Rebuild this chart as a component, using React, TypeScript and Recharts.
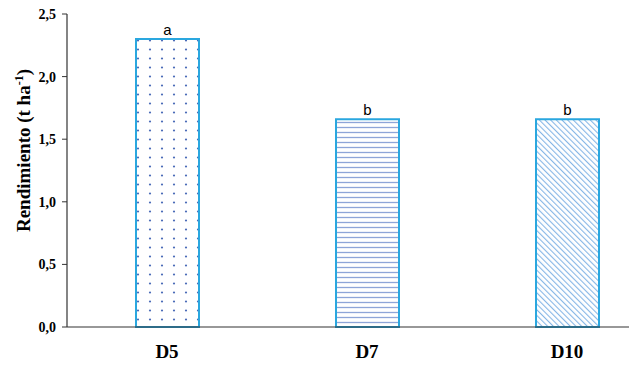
import React from "react";
import { Bar, BarChart, Cell, LabelList, XAxis, YAxis } from "recharts";

const tratamientos = ["D5", "D7", "D10"];
const rendimiento = [2.3, 1.66, 1.66];
const letras = ["a", "b", "b"];
const ticksY = [0, 0.5, 1, 1.5, 2, 2.5];
const patrones = ["puntos", "horizontal", "diagonal"];

const datos = tratamientos.map((t, i) => ({
  tratamiento: t,
  rendimiento: rendimiento[i],
  letra: letras[i],
}));

const SERIF = "'Liberation Serif', 'Times New Roman', serif";

function TituloY({ viewBox }: any) {
  const cy = viewBox.y + viewBox.height / 2 - 20;
  return (
    <text
      x={0}
      y={0}
      transform={`translate(30, ${cy}) rotate(-90)`}
      textAnchor="middle"
      style={{ fontFamily: SERIF, fontWeight: "bold", fontSize: 19 }}
      fill="#000"
    >
      Rendimiento (t ha
      <tspan fontSize={12} dy={-7}>
        -1
      </tspan>
      <tspan dy={7}>)</tspan>
    </text>
  );
}

export default function App() {
  return (
    <div
      style={{
        position: "absolute",
        left: 0,
        top: 0,
        background: "#fff",
        fontFamily: SERIF,
      }}
    >
      <BarChart
        width={629}
        height={368}
        data={datos}
        margin={{ top: 14, right: -38, bottom: 0, left: 0 }}
        style={{ fontFamily: SERIF }}
      >
        <defs>
          <pattern id="puntos" width="12" height="9" patternUnits="userSpaceOnUse">
            <rect width="12" height="9" fill="#fff" />
            <circle cx="6" cy="4.5" r="1.1" fill="#4a6bb8" />
          </pattern>
          <pattern id="horizontal" width="6" height="5" patternUnits="userSpaceOnUse">
            <rect width="6" height="5" fill="#fff" />
            <line x1="0" y1="2.5" x2="6" y2="2.5" stroke="#8ea5d8" strokeWidth="1.3" />
          </pattern>
          <pattern
            id="diagonal"
            width="4"
            height="4"
            patternUnits="userSpaceOnUse"
            patternTransform="rotate(-45)"
          >
            <rect width="4" height="4" fill="#fff" />
            <line x1="0" y1="0" x2="0" y2="4" stroke="#86b6e6" strokeWidth="2.2" />
          </pattern>
        </defs>
        <XAxis
          dataKey="tratamiento"
          height={41}
          tickLine={false}
          tickSize={0}
          tickMargin={18}
          axisLine={{ stroke: "#333", strokeWidth: 1.2 }}
          tick={{
            fill: "#000",
            fontSize: 19,
            style: { fontFamily: SERIF, fontWeight: "bold" },
          }}
        />
        <YAxis
          width={67}
          domain={[0, 2.5]}
          ticks={ticksY}
          interval={0}
          tickSize={5}
          tickMargin={6}
          tickFormatter={(v: number) => v.toFixed(1).replace(".", ",")}
          axisLine={{ stroke: "#333", strokeWidth: 1.2 }}
          tickLine={{ stroke: "#333" }}
          tick={{
            fill: "#000",
            fontSize: 14,
            style: { fontFamily: SERIF, fontWeight: "bold" },
          }}
          label={<TituloY />}
        />
        <Bar
          dataKey="rendimiento"
          barSize={63}
          stroke="#2aa7df"
          strokeWidth={2}
          isAnimationActive={false}
        >
          {datos.map((d, i) => (
            <Cell key={d.tratamiento} fill={`url(#${patrones[i]})`} />
          ))}
          <LabelList
            dataKey="letra"
            position="top"
            offset={4}
            fill="#000"
            style={{ fontFamily: "Arial, 'Liberation Sans', sans-serif" }}
            fontSize={15}
          />
        </Bar>
      </BarChart>
    </div>
  );
}
